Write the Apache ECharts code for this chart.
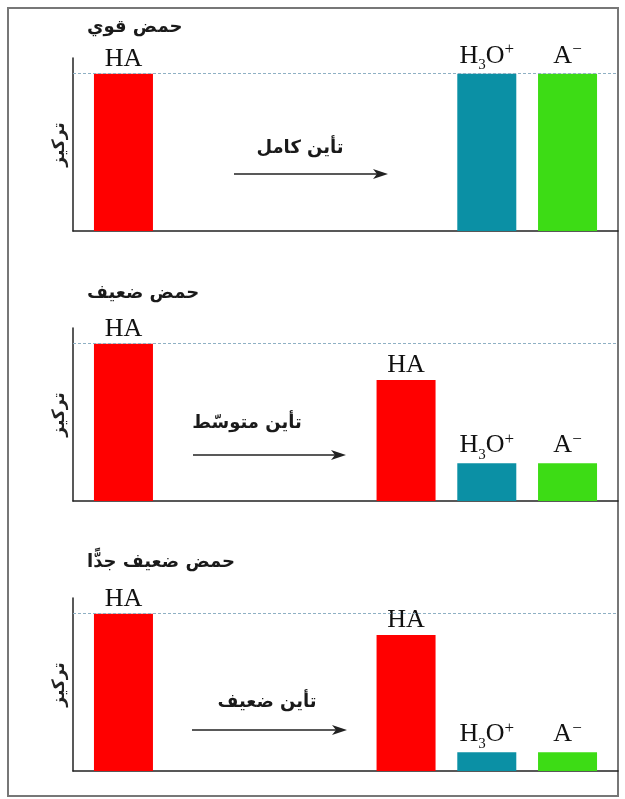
<!DOCTYPE html>
<html><head><meta charset="utf-8">
<script src="https://cdn.jsdelivr.net/npm/echarts@6/dist/echarts.min.js"></script>
<style>html,body{margin:0;padding:0;background:#fff}#c{width:625px;height:799px}</style>
</head><body><div id="c"></div>
<script>
// ---- data ----
const species = ['HA', 'HA', 'H3O+', 'A-'];
const panelTitles = ['حمض قوي', 'حمض ضعيف', 'حمض ضعيف جدًّا'];
const ionizationLabels = ['تأين كامل', 'تأين متوسّط', 'تأين ضعيف'];
const yAxisName = 'تركيز';
const strongAcid = [100, null, 100, 100];
const weakAcid = [100, 77, 24, 24];
const veryWeakAcid = [100, 86.5, 12, 12];
const initialLevel = 100;

// ---- layout / style ----
const panels = [strongAcid, weakAcid, veryWeakAcid];
const N = 27;
const slotOf = [2, 16, 20, 24];
const cats = Array.from({length: N}, (_, i) => 'c' + i);
const gridTops = [58, 328, 598];
const gridH = 173;
const speciesColors = ['#ff0000', '#ff0000', '#0b90a5', '#3ddc15'];
const labelRich = {
  'HA': '{n|HA}',
  'H3O+': '{n|H}{sub|3}{n|O}{sup|+}',
  'A-': '{n|A}{sup|−}'
};
const labelDist = {'HA': 2, 'H3O+': 5, 'A-': 5};
const rich = {
  n: {fontFamily: 'Liberation Serif', fontSize: 26, lineHeight: 26, color: '#111'},
  sub: {fontFamily: 'Liberation Serif', fontSize: 15, lineHeight: 15, padding: [19, 0, 0, 0], color: '#111'},
  sup: {fontFamily: 'Liberation Serif', fontSize: 17, lineHeight: 17, padding: [0, 0, 12, 0], color: '#111'}
};
const arabicFont = '"DejaVu Sans"';
const arrows = [
  {x1: 234, x2: 388, y: 174, tx: 300, ty: 148},
  {x1: 193, x2: 346, y: 455, tx: 247, ty: 423},
  {x1: 192, x2: 347, y: 730, tx: 267, ty: 702}
];
const titleTops = [10, 276, 545];

const grids = [], xAxes = [], yAxes = [], series = [], titles = [], graphics = [];
panels.forEach((vals, p) => {
  grids.push({left: 73, top: gridTops[p], width: 545, height: gridH});
  xAxes.push({
    type: 'category', gridIndex: p, data: cats,
    axisLine: {show: true, lineStyle: {color: '#222', width: 1.5}},
    axisTick: {show: false}, axisLabel: {show: false}, splitLine: {show: false}
  });
  yAxes.push({
    type: 'value', gridIndex: p, min: 0, max: 110,
    name: yAxisName, nameLocation: 'middle', nameGap: 5, nameRotate: 90,
    nameTextStyle: {fontFamily: arabicFont, fontWeight: 'bold', fontSize: 17, color: '#222'},
    axisLine: {show: true, lineStyle: {color: '#222', width: 1.5}},
    axisTick: {show: false}, axisLabel: {show: false}, splitLine: {show: false}
  });
  const data = new Array(N).fill(null);
  vals.forEach((v, i) => {
    if (v === null) return;
    const sp = species[i];
    data[slotOf[i]] = {
      value: v,
      itemStyle: {color: speciesColors[i]},
      label: {show: true, position: 'top', distance: labelDist[sp], formatter: labelRich[sp], rich: rich}
    };
  });
  series.push({
    type: 'bar', xAxisIndex: p, yAxisIndex: p, data: data, barWidth: 59,
    silent: true, animation: false,
    markLine: {
      silent: true, symbol: 'none', label: {show: false},
      lineStyle: {color: '#8fb0c4', type: [3, 2], width: 1},
      data: [{yAxis: initialLevel}]
    }
  });
  titles.push({
    text: panelTitles[p], left: 82, top: titleTops[p],
    textStyle: {fontFamily: arabicFont, fontWeight: 'bold', fontSize: 18, color: '#1a1a1a', lineHeight: 24}
  });
  const a = arrows[p];
  graphics.push({
    type: 'line', shape: {x1: a.x1, y1: a.y, x2: a.x2 - 8, y2: a.y},
    style: {stroke: '#222', lineWidth: 1.5}, silent: true
  });
  graphics.push({
    type: 'polygon', shape: {points: [[a.x2, a.y], [a.x2 - 15, a.y - 5], [a.x2 - 11, a.y], [a.x2 - 15, a.y + 5]]},
    style: {fill: '#222'}, silent: true
  });
  graphics.push({
    type: 'text', x: a.tx, y: a.ty,
    style: {text: ionizationLabels[p], align: 'center', verticalAlign: 'middle',
      font: 'bold 18px ' + arabicFont, fill: '#1a1a1a'},
    silent: true
  });
});
graphics.push({
  type: 'rect', shape: {x: 8, y: 8, width: 610, height: 788},
  style: {fill: 'none', stroke: '#777', lineWidth: 2}, silent: true, z: -1
});

const chart = echarts.init(document.getElementById('c'), null, {renderer: 'canvas'});
chart.setOption({
  animation: false,
  backgroundColor: '#fff',
  title: titles,
  grid: grids,
  xAxis: xAxes,
  yAxis: yAxes,
  series: series,
  graphic: graphics
});
</script>
</body></html>
